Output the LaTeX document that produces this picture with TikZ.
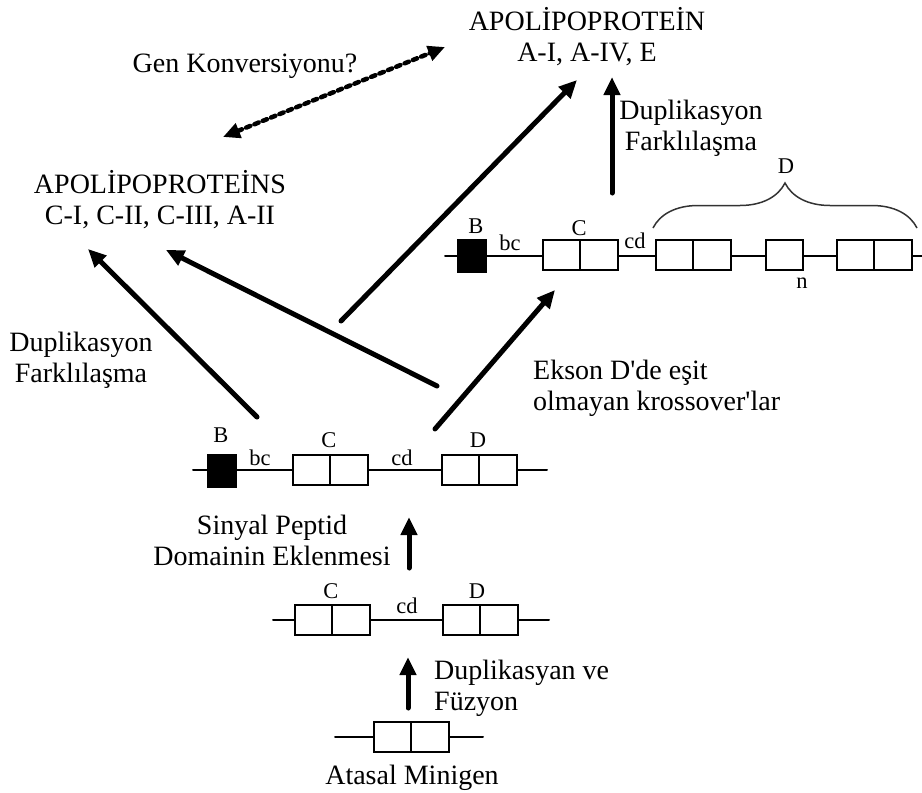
\documentclass[tikz,border=0pt]{standalone}
\usepackage{fontspec}
\setmainfont{Liberation Serif}[Ligatures=TeXOff]
\usetikzlibrary{arrows.meta,calc,positioning,decorations.pathreplacing}
\usepackage{tkz-euclide}

\begin{document}
\begin{tikzpicture}[x=1pt,y=-1pt,
  txt/.style={inner sep=0pt,font=\fontsize{28}{31}\selectfont,align=center},
  lbl/.style={inner sep=0pt,anchor=base,font=\fontsize{22.5}{24}\selectfont},
  gene/.style={line width=2pt},
  exon/.style={draw,line width=2pt,fill=white,minimum width=75pt,minimum height=30pt,inner sep=0pt,
    path picture={\draw[line width=2pt] (path picture bounding box.north) -- (path picture bounding box.south);}},
  half/.style={draw,line width=2pt,fill=white,minimum width=37pt,minimum height=30pt,inner sep=0pt},
  signal/.style={draw,line width=1pt,fill=black,minimum width=29pt,minimum height=33pt,inner sep=0pt},
  evo/.style={line width=5pt,-{Triangle[length=18pt,width=16pt]}},
  conv/.style={line width=4.5pt,dash pattern=on 4.5pt off 4.5pt,
    {Triangle[length=17pt,width=15pt]}-{Triangle[length=17pt,width=15pt]}},
  brc/.style={line width=1.5pt,black!80,decorate,decoration={brace,amplitude=45pt}}]
\useasboundingbox (0,0) rectangle (922,793);

\tkzDefPoints{335/737/g0l,483/737/g0r,273/620/g1l,549/620/g1r,193/470/g2l,547/470/g2r,445/256/g3l,922/256/g3r}
\tkzDrawSegments[gene](g0l,g0r g1l,g1r g2l,g2r g3l,g3r)

\node[exon] (m0) at (411,737) {};

\node[exon] (c1) at (332,620) {};
\node[exon] (d1) at (480,620) {};
\node[lbl] (lc1) at (331,598) {C};
\node[lbl] (lcd1) at (407,613) {cd};
\node[lbl] (ld1) at (477,598) {D};

\node[signal] (b2) at (222,471) {};
\node[exon] (c2) at (330,470) {};
\node[exon] (d2) at (479,470) {};
\node[lbl] (lb2) at (221,442) {B};
\node[lbl] (lbc2) at (260,465) {bc};
\node[lbl] (lc2) at (329,447) {C};
\node[lbl] (lcd2) at (402,465) {cd};
\node[lbl] (ld2) at (478,447) {D};

\node[signal] (b3) at (472,256) {};
\node[exon] (c3) at (580,255) {};
\node[exon] (d3a) at (693,255) {};
\node[half] (d3n) at (784,255) {};
\node[exon] (d3b) at (874,255) {};
\node[lbl] (lb3) at (476,233) {B};
\node[lbl] (lbc3) at (510,250) {bc};
\node[lbl] (lc3) at (579,235) {C};
\node[lbl] (lcd3) at (635,248) {cd};
\node[lbl] (ln3) at (802,288) {n};
\node[lbl] (ld3) at (786,173) {D};
\tkzDefPoints{653/228/br1,917/228/br2}
\draw[brc] (br1) -- (br2);

\node[txt] (apoA) at (587,37) {APOLİPOPROTEİN\\A-I, A-IV, E};
\node[txt,anchor=base] (genk) at (245,72) {Gen Konversiyonu?};
\node[txt] (apoC) at (160,200) {APOLİPOPROTEİNS\\C-I, C-II, C-III, A-II};
\node[txt] (dupR) at (691,128) {Duplikasyon\\Farklılaşma};
\node[txt] (dupL) at (81,360) {Duplikasyon\\Farklılaşma};
\node[txt,align=left,anchor=west] (ekson) at (533,388) {Ekson D'de eşit\\olmayan krossover'lar};
\node[txt] (sinyal) at (272,540) {Sinyal Peptid\\Domainin Eklenmesi};
\node[txt,align=left,anchor=west] (fuzyon) at (434,688) {Duplikasyan ve\\Füzyon};
\node[txt,anchor=base] (atasal) at (412,784) {Atasal Minigen};

\tkzDefPoints{408/708/f1,408/657/f2,409/568/s1,409/517/s2,257/417/l1,88/249/l2,437/386/m1,166/250/m2}
\tkzDefPoints{341/321/u1,577/80/u2,435/429/x1,555/290/x2,612/193/r1,612/77/r2,223/137/k1,445/47/k2}
\tkzDrawSegments[evo](f1,f2 s1,s2 l1,l2 m1,m2 u1,u2 x1,x2 r1,r2)
\tkzDrawSegment[conv](k1,k2)

\end{tikzpicture}
\end{document}
